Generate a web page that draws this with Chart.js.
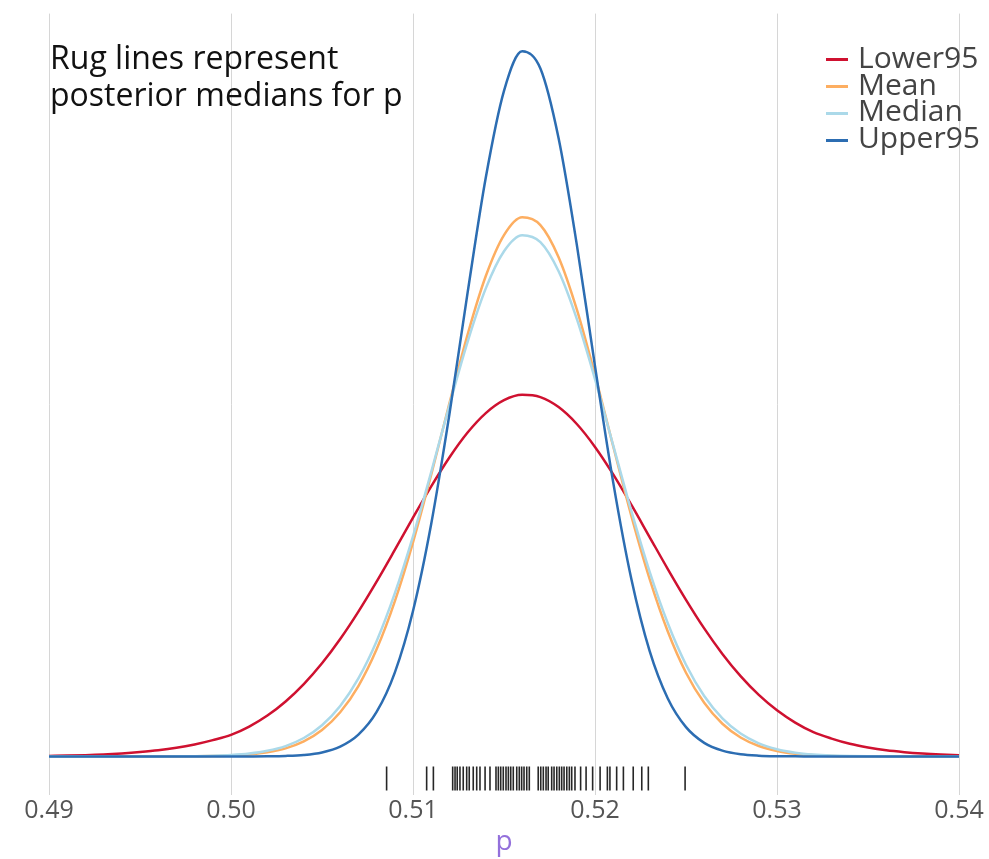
<!DOCTYPE html>
<html>
<head>
<meta charset="utf-8">
<title>Posterior densities for p</title>
<script src="https://cdn.jsdelivr.net/npm/chart.js@4.4.1/dist/chart.umd.min.js"></script>
<style>
  body { margin: 0; background: #fff; }
  #wrap { position: relative; width: 989px; height: 859px; font-family: "Open Sans", sans-serif; }
  #note { position: absolute; left: 50px; top: 38px; font-size: 32px; line-height: 37px; color: #111; }
  #legend { position: absolute; left: 826px; top: 44px; font-size: 30px; color: #444; }
  #legend .row { height: 26.7px; line-height: 26.7px; white-space: nowrap; }
  #legend .swatch { display: inline-block; width: 22px; height: 3px; margin-right: 10px; vertical-align: middle; }
</style>
</head>
<body>
<div id="wrap">
  <canvas id="chart"></canvas>
  <div id="note">Rug lines represent<br>posterior medians for p</div>
  <div id="legend"></div>
</div>
<script>
// grid of p values the density curves are read at
const pGrid = [
  0.490, 0.491, 0.492, 0.493, 0.494, 0.495, 0.496, 0.497, 0.498, 0.499,
  0.500, 0.501, 0.502, 0.503, 0.504, 0.505, 0.506, 0.507, 0.508, 0.509,
  0.510, 0.511, 0.512, 0.513, 0.514, 0.515, 0.516, 0.517, 0.518, 0.519,
  0.520, 0.521, 0.522, 0.523, 0.524, 0.525, 0.526, 0.527, 0.528, 0.529,
  0.530, 0.531, 0.532, 0.533, 0.534, 0.535, 0.536, 0.537, 0.538, 0.539, 0.540
];

const lower95 = [
  0.10, 0.15, 0.22, 0.33, 0.50, 0.72, 1.00, 1.40, 1.95, 2.65,
  3.50, 4.85, 6.63, 8.91, 11.73, 15.10, 19.03, 23.47, 28.32, 33.45,
  38.67, 43.74, 48.42, 52.46, 55.61, 57.70, 58.57, 58.20, 56.58, 53.84,
  50.13, 45.68, 40.73, 35.54, 30.35, 25.37, 20.74, 16.61, 13.01, 9.97,
  7.48, 5.49, 3.94, 2.90, 2.05, 1.45, 1.00, 0.70, 0.48, 0.32, 0.20
];

const mean = [
  0, 0, 0, 0, 0, 0, 0.01, 0.01, 0.03, 0.07,
  0.16, 0.34, 0.69, 1.32, 2.44, 4.28, 7.16, 11.41, 17.35, 25.12,
  34.67, 45.62, 57.19, 68.33, 77.80, 84.43, 87.32, 86.06, 80.85, 72.39,
  61.77, 50.23, 38.92, 28.76, 20.24, 13.57, 8.69, 5.30, 3.08, 1.70,
  0.90, 0.45, 0.22, 0.10, 0.04, 0.02, 0.01, 0, 0, 0, 0
];

const median = [
  0, 0, 0, 0, 0, 0, 0.01, 0.02, 0.05, 0.11,
  0.23, 0.47, 0.92, 1.69, 2.99, 5.06, 8.18, 12.65, 18.68, 26.41,
  35.66, 46.06, 56.88, 67.15, 75.80, 81.82, 84.42, 83.30, 78.58, 70.86,
  61.11, 50.39, 39.72, 29.93, 21.57, 14.86, 9.79, 6.17, 3.71, 2.14,
  1.18, 0.62, 0.31, 0.15, 0.07, 0.03, 0.01, 0.01, 0, 0, 0
];

const upper95 = [
  0, 0, 0, 0, 0, 0, 0, 0, 0, 0,
  0, 0.01, 0.03, 0.09, 0.25, 0.66, 1.59, 3.53, 7.21, 13.59,
  23.57, 37.66, 55.40, 75.11, 93.76, 107.8, 114.2, 111.4, 100.1, 82.89,
  63.21, 44.39, 28.70, 17.10, 9.39, 4.75, 2.21, 0.95, 0.37, 0.14,
  0.05, 0.02, 0.01, 0, 0, 0, 0, 0, 0, 0, 0
];

// posterior medians shown as the rug
const rugMedians = [
  0.50855, 0.51075, 0.51112, 0.51218, 0.51231, 0.51243, 0.51258, 0.51276, 0.51295, 0.51309,
  0.51331, 0.51350, 0.51368, 0.51396, 0.51423, 0.51456, 0.51469, 0.51482, 0.51496, 0.51511,
  0.51524, 0.51537, 0.51551, 0.51570, 0.51584, 0.51597, 0.51610, 0.51625, 0.51639, 0.51688,
  0.51702, 0.51716, 0.51731, 0.51743, 0.51762, 0.51775, 0.51790, 0.51804, 0.51817, 0.51830,
  0.51845, 0.51859, 0.51872, 0.51890, 0.51921, 0.51951, 0.51987, 0.52028, 0.52068, 0.52082,
  0.52119, 0.52156, 0.52210, 0.52257, 0.52293, 0.52495
];

const seriesNames = ['Lower95', 'Mean', 'Median', 'Upper95'];
const seriesValues = [lower95, mean, median, upper95];
const seriesColors = ['#cf1130', '#fdae61', '#abd9e9', '#2c6db2'];
const xTicks = [0.49, 0.50, 0.51, 0.52, 0.53, 0.54];

const rugLevel = -3.55;

const datasets = seriesNames.map((name, i) => ({
  label: name,
  data: pGrid.map((p, j) => ({ x: p, y: seriesValues[i][j] })),
  borderColor: seriesColors[i],
  borderWidth: 2.5,
  pointRadius: 0,
  cubicInterpolationMode: 'monotone',
  order: 4 - i
}));

datasets.push({
  label: 'rug',
  data: rugMedians.map(p => ({ x: p, y: rugLevel })),
  showLine: false,
  pointStyle: 'line',
  pointRotation: 90,
  pointRadius: 12,
  pointHoverRadius: 12,
  pointBorderColor: 'rgba(0,0,0,0.85)',
  pointBorderWidth: 1.6,
  order: 0
});

// html legend from the series arrays
const legendEl = document.getElementById('legend');
seriesNames.forEach((name, i) => {
  const row = document.createElement('div');
  row.className = 'row';
  row.innerHTML = '<span class="swatch" style="background:' + seriesColors[i] + '"></span>' + name;
  legendEl.appendChild(row);
});

const canvas = document.getElementById('chart');
canvas.width = 989;
canvas.height = 859;

new Chart(canvas.getContext('2d'), {
  type: 'line',
  data: { datasets },
  options: {
    responsive: false,
    animation: false,
    layout: { padding: { left: 49, right: 30, top: 10, bottom: 0 } },
    scales: {
      x: {
        type: 'linear',
        min: 0.49,
        max: 0.54,
        afterBuildTicks: axis => { axis.ticks = xTicks.map(v => ({ value: v })); },
        grid: { color: '#d6d6d6', lineWidth: 1, drawTicks: false },
        border: { display: false },
        ticks: {
          padding: 0,
          color: '#555',
          font: { family: 'Open Sans', size: 25 },
          callback: v => Number(v).toFixed(2)
        },
        title: {
          display: true,
          text: 'p',
          color: 'mediumpurple',
          padding: { top: 0, bottom: 0 },
          font: { family: 'Open Sans', size: 28 }
        }
      },
      y: {
        display: false,
        min: -6.3,
        max: 120.3
      }
    },
    plugins: {
      legend: { display: false },
      tooltip: { enabled: false }
    }
  }
});
</script>
</body>
</html>
